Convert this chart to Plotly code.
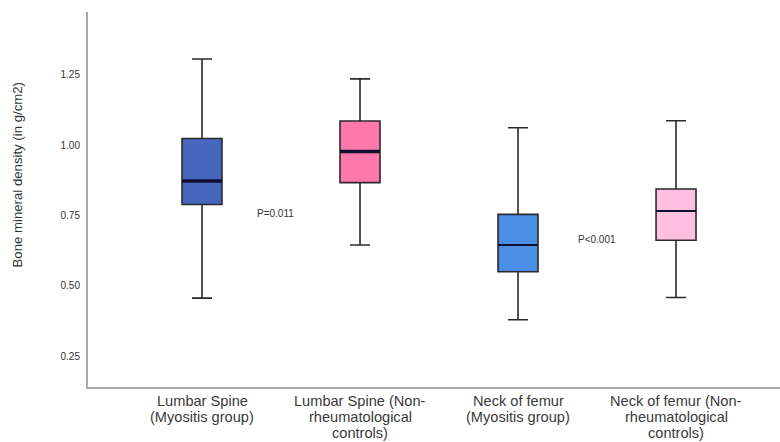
import plotly.graph_objects as go

# ---- data ----
categories = [
    "Lumbar Spine<br>(Myositis group)",
    "Lumbar Spine (Non-<br>rheumatological<br>controls)",
    "Neck of femur<br>(Myositis group)",
    "Neck of femur (Non-<br>rheumatological<br>controls)",
]
lower_whisker = [0.456, 0.645, 0.379, 0.458]
q1_values = [0.789, 0.867, 0.550, 0.662]
median_values = [0.873, 0.978, 0.645, 0.766]
q3_values = [1.024, 1.086, 0.754, 0.844]
upper_whisker = [1.307, 1.236, 1.062, 1.087]

y_tick_values = [0.25, 0.50, 0.75, 1.00, 1.25]
y_tick_labels = ["0.25", "0.50", "0.75", "1.00", "1.25"]

p_labels = ["P=0.011", "P<0.001"]
p_x = [0.462, 2.50]
p_y = [0.757, 0.663]

y_title = "Bone mineral density (in g/cm2)"

# ---- styles ----
fill_colors = ["#4767BF", "#FF78A9", "#4A8EE6", "#FFBFE0"]
median_widths = [3.5, 3.5, 2.0, 2.0]
outline = "#2a2a2a"
box_w = 0.253
FONT = "Liberation Sans, Arial, sans-serif"

fig = go.Figure()
xs = list(range(len(categories)))
for i, cat in enumerate(categories):
    fig.add_trace(go.Box(
        x=[xs[i]],
        q1=[q1_values[i]],
        median=[median_values[i]],
        q3=[q3_values[i]],
        lowerfence=[lower_whisker[i]],
        upperfence=[upper_whisker[i]],
        width=box_w,
        whiskerwidth=0.5,
        fillcolor=fill_colors[i],
        line=dict(color=outline, width=1.6),
        name=cat.replace("<br>", " "),
        showlegend=False,
        hoverinfo="skip",
    ))
    # median line (thicker in the first pair)
    fig.add_shape(
        type="line", xref="x", yref="y",
        x0=xs[i] - box_w / 2, x1=xs[i] + box_w / 2,
        y0=median_values[i], y1=median_values[i],
        line=dict(color="#0f0f30", width=median_widths[i]),
    )

# x category labels, one annotation per line (tight SPSS-like line spacing)
for i, cat in enumerate(categories):
    for k, line in enumerate(cat.split("<br>")):
        fig.add_annotation(
            x=xs[i], y=0, xref="x", yref="paper",
            text=line, showarrow=False,
            xanchor="center", yanchor="middle",
            yshift=-14 - 16.2 * k,
            font=dict(family=FONT, size=14.6, color="#3a3a3a"),
        )

# p-value annotations
for lbl, px, py in zip(p_labels, p_x, p_y):
    fig.add_annotation(
        x=px, y=py, xref="x", yref="y", text=lbl, showarrow=False,
        xanchor="center", yanchor="middle",
        font=dict(family=FONT, size=10, color="#333333"),
    )

# y axis title
fig.add_annotation(
    x=-0.1012, y=0.5667, xref="paper", yref="paper",
    text=y_title, textangle=-90, showarrow=False,
    xanchor="center", yanchor="middle",
    font=dict(family=FONT, size=13.2, color="#333333"),
)

fig.update_layout(
    width=780, height=442,
    margin=dict(l=88, r=0, t=12, b=55),
    paper_bgcolor="white", plot_bgcolor="white",
    font=dict(family=FONT, color="#333333"),
    showlegend=False,
)
fig.update_xaxes(
    range=[-0.7215, 3.658],
    showticklabels=False, ticks="",
    showgrid=False, zeroline=False,
    showline=True, linecolor="#a8a8a8", linewidth=2,
)
fig.update_yaxes(
    range=[0.1397, 1.474],
    tickvals=y_tick_values, ticktext=y_tick_labels,
    ticks="", ticklabelstandoff=4,
    tickfont=dict(family=FONT, size=10, color="#333333"),
    showgrid=False, zeroline=False,
    showline=True, linecolor="#a8a8a8", linewidth=2,
)

fig.write_html(
    "out.html",
    config={"displayModeBar": False, "staticPlot": True},
    post_script="document.body.style.margin='0';document.body.style.padding='0';"
                "document.body.style.overflow='hidden';",
)
